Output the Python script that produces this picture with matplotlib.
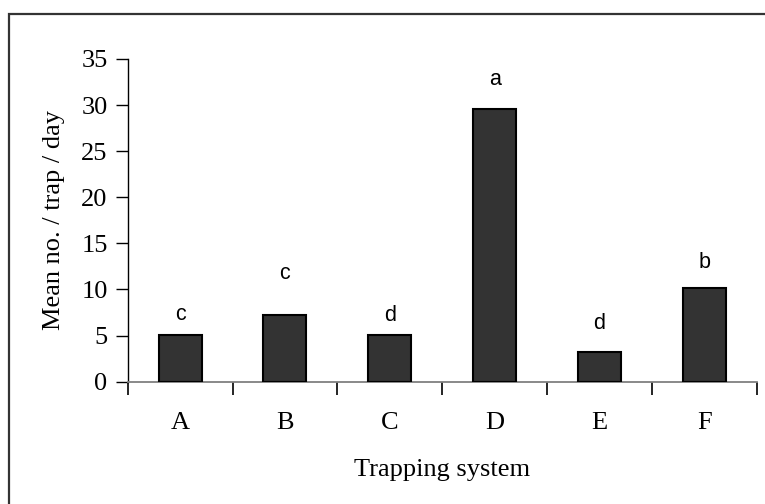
import matplotlib
matplotlib.use("Agg")
import matplotlib.pyplot as plt
from matplotlib.patches import Rectangle
from matplotlib.ticker import FixedLocator, NullFormatter

# mean catch per trap per day for each trapping system
systems = ["A", "B", "C", "D", "E", "F"]
means = [5.05, 7.2, 5.1, 29.6, 3.2, 10.2]
groups = ["c", "c", "d", "a", "d", "b"]
group_y = [6.7, 11.1, 6.6, 32.2, 5.7, 12.3]

serif = "Liberation Serif"
sans = "Liberation Sans"

fig = plt.figure(figsize=(7.65, 5.04), dpi=100)
ax = fig.add_axes([0.167, 0.2427, 0.822, 0.6403])

x = list(range(len(systems)))
ax.bar(x, means, width=0.41, color="#333333", edgecolor="black", linewidth=1.5, zorder=3)

for xi, g, gy in zip(x, groups, group_y):
    ax.text(xi, gy, g, ha="center", va="baseline", fontsize=15.5, family=sans)

ax.set_xlim(-0.5, len(systems) - 0.5)
ax.set_ylim(0, 35)
ax.set_yticks(range(0, 36, 5))

# category names centred, tick marks on the boundaries
ax.set_xticks(x)
ax.set_xticklabels(systems, family=serif, fontsize=19)
ax.xaxis.set_minor_locator(FixedLocator([i - 0.5 for i in range(len(systems) + 1)]))
ax.xaxis.set_minor_formatter(NullFormatter())
ax.tick_params(axis="x", which="major", length=0, pad=22)
ax.tick_params(axis="x", which="minor", length=9, width=1.2, direction="out", color="black")
ax.tick_params(axis="y", length=9, width=1.0, direction="out", pad=5.5, color="black")
for lab in ax.get_yticklabels():
    lab.set_family(serif)
    lab.set_fontsize(19)

for side in ("top", "right"):
    ax.spines[side].set_visible(False)
ax.spines["left"].set_color("black")
ax.spines["left"].set_linewidth(1.0)
ax.spines["bottom"].set_color("#808080")
ax.spines["bottom"].set_linewidth(1.3)

ax.set_xlabel("Trapping system", family=serif, fontsize=19, labelpad=18)
fig.text(0.071, 0.563, "Mean no. / trap / day", rotation=90, ha="center", va="center",
         family=serif, fontsize=19)

# outer frame, runs past the right and bottom edges
fig.patches.append(Rectangle((9 / 765, -0.05), 1.1, 1.05 - 14 / 504,
                             transform=fig.transFigure, fill=False,
                             edgecolor="#333333", linewidth=1.6))

fig.savefig("out.png", dpi=100)
